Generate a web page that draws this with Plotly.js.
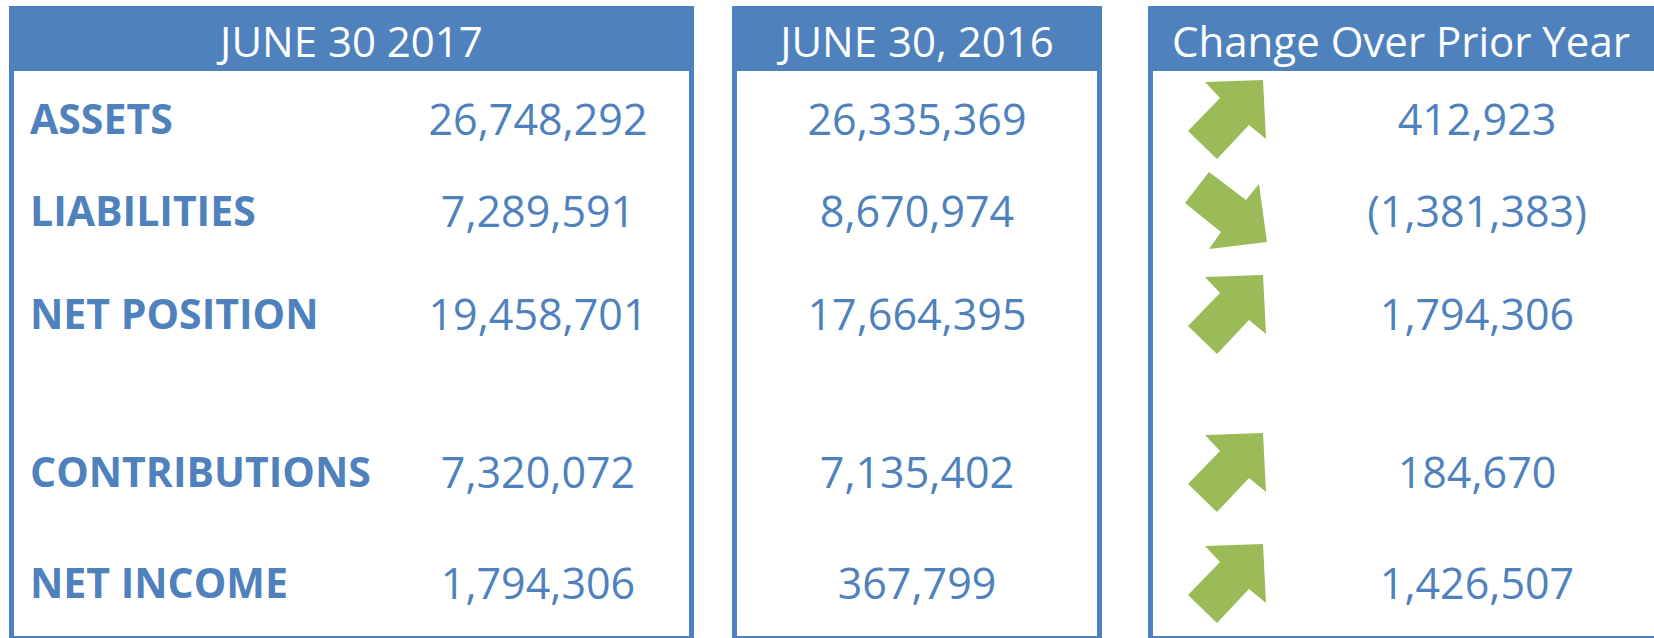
<!DOCTYPE html>
<html>
<head>
<meta charset="utf-8">
<script src="https://cdn.plot.ly/plotly-3.0.1.min.js"></script>
<style>
  html, body { margin: 0; padding: 0; background: #ffffff; }
  #chart { width: 1654px; height: 638px; }
</style>
</head>
<body>
<div id="chart"></div>
<script>
// ---- data ----
const headers = ['JUNE 30 2017', 'JUNE 30, 2016', 'Change Over Prior Year'];
const rowLabels = ['ASSETS', 'LIABILITIES', 'NET POSITION', 'CONTRIBUTIONS', 'NET INCOME'];
const values2017 = [26748292, 7289591, 19458701, 7320072, 1794306];
const values2016 = [26335369, 8670974, 17664395, 7135402, 367799];
const changes = [412923, -1381383, 1794306, 184670, 1426507];

// ---- layout constants (pixel space) ----
const W = 1654, H = 638;
const BLUE = '#4F81BD', GREEN = '#9BBB59';
const FONT = 'Open Sans, Noto Sans, sans-serif';
const panels = [[9, 694], [732, 1102], [1148, 1662]];
const border = 5, panelTop = 6, headerBottom = 71, innerBottom = 636;
const rowY = [119, 211, 314, 472, 583];
const textDY = 5;
const headerY = 46;
const labelX = 30;
const valueX = [538, 917, 1477];
const arrowX = 1227;
const upArrow = [[-22,-37],[36,-39],[39,20],[22,6],[-10,40],[-39,12],[-7,-21]];
const downArrow = [[-18,-39],[-42,-8],[-6,21],[-18,38],[40,31],[32,-27],[19,-11]];

function fmt(v) {
  const s = Math.abs(v).toLocaleString('en-US');
  return v < 0 ? '(' + s + ')' : s;
}

const shapes = [];
panels.forEach(p => {
  shapes.push({type: 'rect', xref: 'x', yref: 'y', x0: p[0], x1: p[1], y0: panelTop, y1: H + 4,
               fillcolor: BLUE, line: {width: 0}, layer: 'below'});
  shapes.push({type: 'rect', xref: 'x', yref: 'y', x0: p[0] + border, x1: p[1] - border,
               y0: headerBottom, y1: innerBottom, fillcolor: '#ffffff', line: {width: 0}, layer: 'below'});
});

const traces = [];
// headers
traces.push({
  type: 'scatter', mode: 'text', hoverinfo: 'skip', showlegend: false,
  x: panels.map(p => (p[0] + Math.min(p[1], W)) / 2),
  y: headers.map(() => headerY),
  text: headers,
  textposition: 'middle center',
  textfont: {family: FONT, size: 42, color: '#ffffff'}
});
// row labels
traces.push({
  type: 'scatter', mode: 'text', hoverinfo: 'skip', showlegend: false,
  x: rowLabels.map(() => labelX), y: rowY.map(y => y + textDY),
  text: rowLabels.map(t => '<b>' + t + '</b>'),
  textposition: 'middle right',
  textfont: {family: FONT, size: 41, color: BLUE}
});
// values
[values2017, values2016, changes].forEach((arr, i) => {
  traces.push({
    type: 'scatter', mode: 'text', hoverinfo: 'skip', showlegend: false,
    x: arr.map(() => valueX[i]), y: rowY.map(y => y + textDY),
    text: arr.map(fmt),
    textposition: 'middle center',
    textfont: {family: FONT, size: 43, color: BLUE}
  });
});
// arrows
changes.forEach((c, i) => {
  const tpl = c >= 0 ? upArrow : downArrow;
  traces.push({
    type: 'scatter', mode: 'lines', hoverinfo: 'skip', showlegend: false,
    x: tpl.map(pt => arrowX + pt[0]).concat([arrowX + tpl[0][0]]),
    y: tpl.map(pt => rowY[i] + pt[1]).concat([rowY[i] + tpl[0][1]]),
    fill: 'toself', fillcolor: GREEN, line: {width: 0, color: GREEN}
  });
});

const layout = {
  width: W, height: H,
  margin: {l: 0, r: 0, t: 0, b: 0, pad: 0},
  paper_bgcolor: '#ffffff', plot_bgcolor: '#ffffff',
  xaxis: {range: [0, W], visible: false, fixedrange: true},
  yaxis: {range: [H, 0], visible: false, fixedrange: true},
  shapes: shapes,
  showlegend: false
};

Plotly.newPlot('chart', traces, layout, {staticPlot: true, displayModeBar: false});
</script>
</body>
</html>
